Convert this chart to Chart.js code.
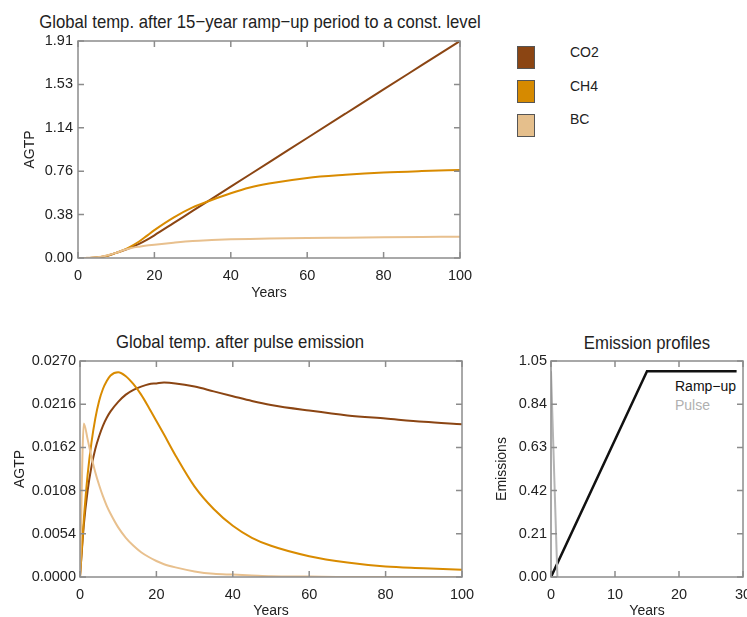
<!DOCTYPE html>
<html>
<head>
<meta charset="utf-8">
<script src="https://cdn.jsdelivr.net/npm/chart.js@4.4.0/dist/chart.umd.min.js"></script>
<style>
  html, body { margin: 0; padding: 0; background: #fff; }
  body { width: 747px; height: 617px; position: relative; overflow: hidden; font-family: "Liberation Sans", Arial, sans-serif; color: #222; }
  canvas { position: absolute; }
  .title { position: absolute; font-size: 19px; line-height: 1; white-space: nowrap; transform: translate(-50%, -50%) scaleX(0.88); }
  .lg-box { position: absolute; width: 18px; height: 23px; border: 1.5px solid #555; box-sizing: border-box; }
  .lg-text { position: absolute; font-size: 14px; line-height: 16px; white-space: nowrap; }
</style>
</head>
<body>

<div class="title" style="left:260px; top:21px;">Global temp. after 15−year ramp−up period to a const. level</div>
<div class="title" style="left:240px; top:341px;">Global temp. after pulse emission</div>
<div class="title" style="left:647px; top:342px;">Emission profiles</div>
<div id="legend"></div>
<div class="lg-text" style="left:675px; top:378px; color:#111;">Ramp−up</div>
<div class="lg-text" style="left:675px; top:397px; color:#b0b0b0;">Pulse</div>

<canvas id="rampChart" width="500" height="310" style="left:0; top:0;"></canvas>
<canvas id="pulseChart" width="500" height="310" style="left:0; top:310px;"></canvas>
<canvas id="emisChart" width="290" height="310" style="left:480px; top:310px;"></canvas>

<script>
// series names / colours
var seriesNames = ['CO2', 'CH4', 'BC'];
var seriesColors = ['#8b4513', '#d98b00', '#e8c08e'];
var boxColors = ['#8b4513', '#d68a00', '#e5bf8c'];

// ramp-up AGTP
var rampYears = [0, 2, 4, 6, 8, 10, 12, 14, 16, 18, 20, 25, 30, 35, 40, 45, 50, 60, 70, 80, 90, 100];
var co2Ramp = [0, 0, 0.002, 0.008, 0.022, 0.045, 0.068, 0.095, 0.125, 0.16, 0.2, 0.307, 0.414, 0.521, 0.628, 0.735, 0.842, 1.056, 1.27, 1.484, 1.697, 1.91];
var ch4Ramp = [0, 0, 0.003, 0.01, 0.024, 0.045, 0.072, 0.105, 0.145, 0.195, 0.245, 0.355, 0.445, 0.51, 0.57, 0.62, 0.655, 0.705, 0.732, 0.752, 0.765, 0.775];
var bcRamp = [0, 0.001, 0.004, 0.012, 0.026, 0.045, 0.07, 0.088, 0.1, 0.11, 0.117, 0.135, 0.15, 0.158, 0.164, 0.168, 0.171, 0.176, 0.179, 0.182, 0.185, 0.188];
var rampTicks = [0, 0.382, 0.764, 1.146, 1.528, 1.91];
var rampTickLabels = ['0.00', '0.38', '0.76', '1.14', '1.53', '1.91'];

// pulse AGTP
var pulseYears = [0, 1, 2, 3, 4, 5, 6, 7, 8, 10, 12, 14, 16, 18, 20, 22, 25, 30, 35, 40, 45, 50, 60, 70, 80, 90, 100];
var co2Pulse = [0, 0.0065, 0.0108, 0.0138, 0.0160, 0.0176, 0.0189, 0.0199, 0.0207, 0.0219, 0.0228, 0.0234, 0.0238, 0.0241, 0.0242, 0.0243, 0.0242, 0.0238, 0.0232, 0.0226, 0.0220, 0.0215, 0.0208, 0.0202, 0.0198, 0.0194, 0.0191];
var ch4Pulse = [0, 0.0072, 0.0128, 0.0168, 0.0198, 0.0220, 0.0235, 0.0245, 0.0252, 0.0256, 0.0251, 0.0241, 0.0228, 0.0212, 0.0195, 0.0178, 0.0152, 0.0113, 0.0085, 0.0064, 0.0049, 0.0039, 0.0026, 0.0018, 0.0013, 0.0011, 0.0009];
var bcPulse = [0, 0.0192, 0.0172, 0.0150, 0.0131, 0.0115, 0.0101, 0.0089, 0.0079, 0.0062, 0.0049, 0.0039, 0.0031, 0.0025, 0.0020, 0.0016, 0.0012, 0.0007, 0.0004, 0.0003, 0.0002, 0.0001, 0.00005, 0, 0, 0, 0];
var pulseTicks = [0, 0.0054, 0.0108, 0.0162, 0.0216, 0.027];
var pulseTickLabels = ['0.0000', '0.0054', '0.0108', '0.0162', '0.0216', '0.0270'];

// emission profiles
var rampUpYears = [0, 15, 29];
var rampUpValues = [0, 1, 1];
var pulseProfileYears = [0, 1];
var pulseProfileValues = [1, 0];
var emisTicks = [0, 0.21, 0.42, 0.63, 0.84, 1.05];
var emisTickLabels = ['0.00', '0.21', '0.42', '0.63', '0.84', '1.05'];

var FONT = 'Liberation Sans, Arial, sans-serif';

function pts(xs, ys) {
    return xs.map(function (x, i) { return { x: x, y: ys[i] }; });
}

// legend boxes for the top panel
var legendEl = document.getElementById('legend');
seriesNames.forEach(function (name, i) {
    var box = document.createElement('div');
    box.className = 'lg-box';
    box.style.left = '517px';
    box.style.top = (46 + i * 34) + 'px';
    box.style.background = boxColors[i];
    legendEl.appendChild(box);
    var txt = document.createElement('div');
    txt.className = 'lg-text';
    txt.style.left = '570px';
    txt.style.top = (44 + i * 33.5) + 'px';
    txt.textContent = name;
    legendEl.appendChild(txt);
});

// frame with inward tick marks on all four sides
var framePlugin = {
    id: 'frame',
    afterDatasetsDraw: function (chart) {
        var ctx = chart.ctx, a = chart.chartArea, x = chart.scales.x, y = chart.scales.y;
        ctx.save();
        ctx.strokeStyle = '#8c8c8c';
        ctx.lineWidth = 1.5;
        ctx.beginPath();
        x.ticks.forEach(function (t) {
            var px = x.getPixelForValue(t.value);
            ctx.moveTo(px, a.bottom); ctx.lineTo(px, a.bottom - 6);
            ctx.moveTo(px, a.top); ctx.lineTo(px, a.top + 6);
        });
        y.ticks.forEach(function (t) {
            var py = y.getPixelForValue(t.value);
            ctx.moveTo(a.left, py); ctx.lineTo(a.left + 6, py);
            ctx.moveTo(a.right, py); ctx.lineTo(a.right - 6, py);
        });
        ctx.stroke();
        ctx.strokeRect(a.left, a.top, a.right - a.left, a.bottom - a.top);
        ctx.restore();
    }
};

function makeOptions(cfg) {
    return {
        responsive: false,
        animation: false,
        layout: { padding: { top: cfg.padTop, right: cfg.padRight, left: 0, bottom: 0 } },
        plugins: { legend: { display: false }, tooltip: { enabled: false } },
        elements: { point: { radius: 0 }, line: { borderWidth: 2 } },
        scales: {
            x: {
                type: 'linear',
                min: 0,
                max: cfg.xMax,
                grid: { display: false, drawTicks: false },
                border: { display: false },
                ticks: { stepSize: cfg.xStep, padding: cfg.xPad, maxRotation: 0, autoSkip: false, color: '#222', font: { family: FONT, size: 14.5 } },
                title: { display: true, text: 'Years', color: '#222', font: { family: FONT, size: 14 }, padding: { top: 0, bottom: cfg.xTitlePad } },
                afterFit: function (s) { s.height = cfg.xHeight; }
            },
            y: {
                type: 'linear',
                min: 0,
                max: cfg.yTicks[cfg.yTicks.length - 1],
                afterBuildTicks: function (s) { s.ticks = cfg.yTicks.map(function (v) { return { value: v }; }); },
                grid: { display: false, drawTicks: false },
                border: { display: false },
                ticks: { padding: cfg.yPad, color: '#222', font: { family: FONT, size: 14.5 }, callback: function (v, i) { return cfg.yLabels[i]; } },
                title: { display: true, text: cfg.yTitle, color: '#222', font: { family: FONT, size: 14 }, padding: { top: cfg.yTitlePad, bottom: 0 } },
                afterFit: function (s) { s.width = cfg.yWidth; }
            }
        }
    };
}

function agtpSets(xs, lists) {
    return lists.map(function (vals, i) {
        return {
            label: seriesNames[i],
            data: pts(xs, vals),
            borderColor: seriesColors[i],
            cubicInterpolationMode: 'monotone',
            fill: false
        };
    }).reverse();
}

//-----------------
//- RAMP-UP CHART -
//-----------------
new Chart(document.getElementById('rampChart'), {
    type: 'line',
    data: { datasets: agtpSets(rampYears, [co2Ramp, ch4Ramp, bcRamp]) },
    options: makeOptions({
        padTop: 41, padRight: 40, xMax: 100, xStep: 20, xPad: 9, xHeight: 52, xTitlePad: 8,
        yTicks: rampTicks, yLabels: rampTickLabels, yPad: 5, yWidth: 78, yTitle: 'AGTP', yTitlePad: 22
    }),
    plugins: [framePlugin]
});

//---------------
//- PULSE CHART -
//---------------
new Chart(document.getElementById('pulseChart'), {
    type: 'line',
    data: { datasets: agtpSets(pulseYears, [co2Pulse, ch4Pulse, bcPulse]) },
    options: makeOptions({
        padTop: 51, padRight: 38, xMax: 100, xStep: 20, xPad: 9, xHeight: 43, xTitlePad: 0,
        yTicks: pulseTicks, yLabels: pulseTickLabels, yPad: 4, yWidth: 80, yTitle: 'AGTP', yTitlePad: 12
    }),
    plugins: [framePlugin]
});

//---------------------
//- EMISSION PROFILES -
//---------------------
new Chart(document.getElementById('emisChart'), {
    type: 'line',
    data: {
        datasets: [
            { label: 'Pulse', data: pts(pulseProfileYears, pulseProfileValues), borderColor: '#b4b4b4', borderWidth: 2, tension: 0 },
            { label: 'Ramp-up', data: pts(rampUpYears, rampUpValues), borderColor: '#111', borderWidth: 2.5, tension: 0 }
        ]
    },
    options: makeOptions({
        padTop: 51, padRight: 27, xMax: 30, xStep: 10, xPad: 9, xHeight: 43, xTitlePad: 0,
        yTicks: emisTicks, yLabels: emisTickLabels, yPad: 4, yWidth: 71, yTitle: 'Emissions', yTitlePad: 14
    }),
    plugins: [framePlugin]
});
</script>
</body>
</html>
